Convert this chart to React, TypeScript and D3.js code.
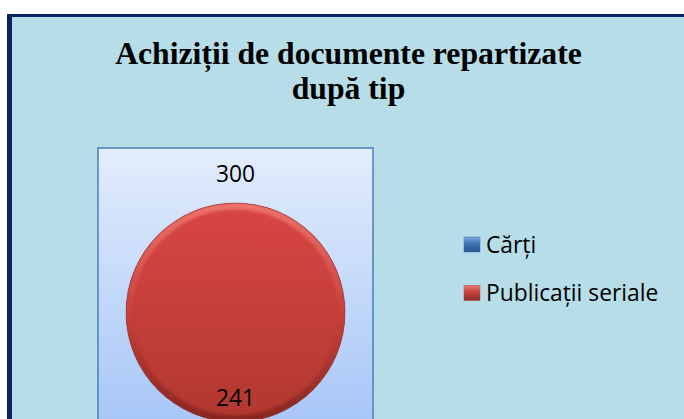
import * as d3 from 'd3'

// Series, one value each (each series is drawn as its own full pie)
const categories = ['Cărți', 'Publicații seriale']
const values = [300, 241]
const seriesColors = ['#3f72b6', '#c6403b']
const titleLines = ['Achiziții de documente repartizate', 'după tip']

const W = 684
const H = 419

export default function App() {
  // plot area
  const plot = { x: 98, y: 148, w: 275, h: 300 }
  const cx = 235.5
  const cy = 312.5
  const r = 109.5

  const pie = d3.pie<number>().sort(null)
  const arc = d3.arc<d3.PieArcDatum<number>>().innerRadius(0).outerRadius(r)

  const seriesArcs = values.map((v) => pie([v])[0])

  // label anchors: first series outside end (top), second inside end (bottom)
  const outsideArc = d3.arc<any>().innerRadius(r * 1.265).outerRadius(r * 1.265)
  const insideArc = d3.arc<any>().innerRadius(r * 0.78).outerRadius(r * 0.78)
  const labelPos = [
    outsideArc.centroid({ startAngle: 0, endAngle: 0 } as any),
    insideArc.centroid({ startAngle: Math.PI, endAngle: Math.PI } as any),
  ]

  const legendX = 464
  const legendY = d3.scalePoint<string>().domain(categories).range([244.5, 293])

  return (
    <svg width={W} height={H} style={{ position: 'absolute', left: 0, top: 0, display: 'block' }}>
      <defs>
        <linearGradient id="plotBg" x1="0" y1="0" x2="0" y2="1">
          <stop offset="0" stopColor="#e3edfc" />
          <stop offset="1" stopColor="#a2c3f7" />
        </linearGradient>
        <linearGradient id="redFill" x1="0" y1="0" x2="0" y2="1">
          <stop offset="0" stopColor="#d94644" />
          <stop offset="1" stopColor="#b1382f" />
        </linearGradient>
        <linearGradient id="blueFill" x1="0" y1="0" x2="0" y2="1">
          <stop offset="0" stopColor="#4f81c4" />
          <stop offset="1" stopColor="#2f5f9f" />
        </linearGradient>
        <linearGradient id="bevel" x1="0" y1="0" x2="0" y2="1">
          <stop offset="0" stopColor="#f07a74" />
          <stop offset="0.5" stopColor="#c9423d" />
          <stop offset="1" stopColor="#7e231e" />
        </linearGradient>
        <filter id="soft" x="-10%" y="-10%" width="120%" height="120%">
          <feGaussianBlur stdDeviation="1.6" />
        </filter>
        <linearGradient id="legBlue" x1="0" y1="0" x2="0" y2="1">
          <stop offset="0" stopColor="#7ea6dc" />
          <stop offset="0.45" stopColor="#3f72b6" />
          <stop offset="1" stopColor="#2a548f" />
        </linearGradient>
        <linearGradient id="legRed" x1="0" y1="0" x2="0" y2="1">
          <stop offset="0" stopColor="#e87a76" />
          <stop offset="0.45" stopColor="#c6403b" />
          <stop offset="1" stopColor="#8f2c27" />
        </linearGradient>
        <clipPath id="pieClip">
          <circle cx={cx} cy={cy} r={r} />
        </clipPath>
      </defs>

      {/* outer chart frame */}
      <rect x={7} y={14} width={W} height={H} fill="#0b2464" />
      <rect x={12} y={17} width={W} height={H} fill="#b7dde8" />

      {/* title */}
      {titleLines.map((t, i) => (
        <text
          key={t}
          x={348.5}
          y={64 + i * 35}
          textAnchor="middle"
          fontFamily="'Liberation Serif', 'Times New Roman', serif"
          fontWeight="bold"
          fontSize={31.7}
          fill="#000"
        >
          {t}
        </text>
      ))}

      {/* plot area */}
      <rect x={plot.x} y={plot.y} width={plot.w} height={plot.h} fill="url(#plotBg)" stroke="#4a7ebb" strokeWidth={1.5} />

      {/* pies: each series a full circle, later series on top */}
      <g transform={`translate(${cx},${cy})`}>
        {seriesArcs.map((a, i) => (
          <path key={categories[i]} d={arc(a) || ''} fill={i === 0 ? 'url(#blueFill)' : 'url(#redFill)'} />
        ))}
      </g>
      <g clipPath="url(#pieClip)">
        <circle cx={cx} cy={cy} r={r - 3} fill="none" stroke="url(#bevel)" strokeWidth={7} filter="url(#soft)" opacity={0.85} />
      </g>
      <circle cx={cx} cy={cy} r={r} fill="none" stroke="#8a2a24" strokeWidth={0.8} opacity={0.6} />

      {/* data labels */}
      {values.map((v, i) => (
        <text
          key={'lbl' + i}
          x={cx + labelPos[i][0]}
          y={cy + labelPos[i][1]}
          dy="0.36em"
          textAnchor="middle"
          fontFamily="'Open Sans', sans-serif"
          fontSize={22.8}
          fill="#000"
        >
          {v}
        </text>
      ))}

      {/* legend */}
      {categories.map((c, i) => (
        <g key={c} transform={`translate(${legendX},${legendY(c)})`}>
          <rect x={0} y={-7.5} width={16} height={15} fill={i === 0 ? 'url(#legBlue)' : 'url(#legRed)'} stroke={seriesColors[i]} strokeWidth={0.5} />
          <text x={22} y={0} dy="0.36em" fontFamily="'Open Sans', sans-serif" fontSize={22.8} fill="#000">
            {c}
          </text>
        </g>
      ))}
    </svg>
  )
}
